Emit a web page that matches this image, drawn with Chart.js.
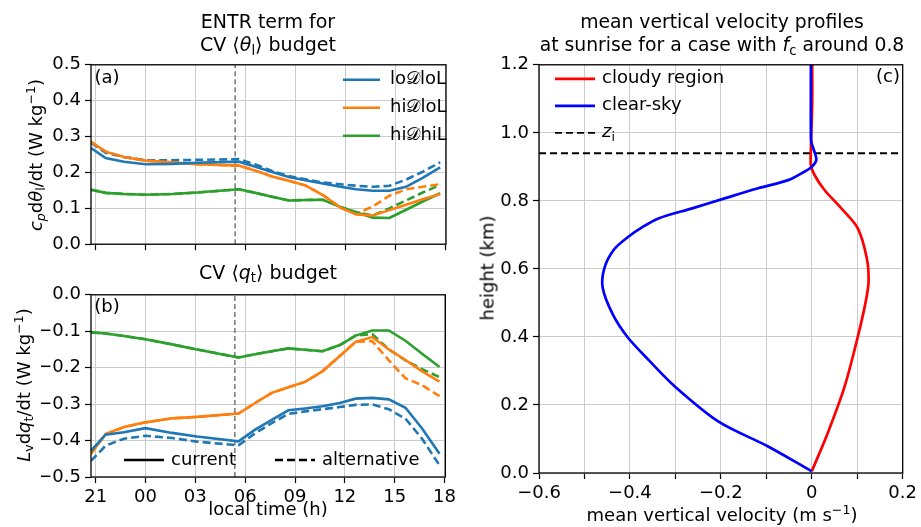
<!DOCTYPE html>
<html>
<head>
<meta charset="utf-8">
<script src="https://cdn.jsdelivr.net/npm/chart.js@4.4.1/dist/chart.umd.min.js"></script>
<style>
body { margin:0; width:921px; height:527px; background:#fff; overflow:hidden; font-family:'DejaVu Sans'; position:relative; }
.box { position:absolute; }
.txt { position:absolute; transform:translate(-50%,-50%); white-space:nowrap; font-size:18px; color:#000; text-align:center; line-height:23px; }
.rot { transform:translate(-50%,-50%) rotate(-90deg); }
sub, sup { font-size:0.7em; line-height:0; }
sub { vertical-align:-0.3em; }
sup { vertical-align:0.55em; }
</style>
</head>
<body>
<div class="box" style="left:41px; top:50px; width:419px; height:209px;"><canvas id="chartA"></canvas></div>
<div class="box" style="left:41px; top:280px; width:419px; height:229px;"><canvas id="chartB"></canvas></div>
<div class="box" style="left:489px; top:50px; width:432px; height:455px;"><canvas id="chartC"></canvas></div>

<div class="txt" style="left:268px; top:33px; font-size:19px;">ENTR term for<br>CV ⟨<i>θ</i><sub>l</sub>⟩ budget</div>
<div class="txt" style="left:268px; top:272px; font-size:19px;">CV ⟨<i>q</i><sub>t</sub>⟩ budget</div>
<div class="txt" style="left:722px; top:33px; font-size:18.8px;">mean vertical velocity profiles<br>at sunrise for a case with <i>f</i><sub>c</sub> around 0.8</div>

<div class="txt rot" style="left:35px; top:155px;"><i>c<sub>p</sub></i>d<i>θ</i><sub>l</sub>/dt (W kg<sup>−1</sup>)</div>
<div class="txt rot" style="left:23px; top:385px;"><i>L</i><sub>v</sub>d<i>q</i><sub>t</sub>/dt (W kg<sup>−1</sup>)</div>
<div class="txt rot" style="left:487px; top:268px;">height (km)</div>
<div class="txt" style="left:268px; top:508px;">local time (h)</div>
<div class="txt" style="left:722px; top:514px;">mean vertical velocity (m s<sup>−1</sup>)</div>

<div class="txt" style="left:107px; top:76px;">(a)</div>
<div class="txt" style="left:107px; top:305px;">(b)</div>
<div class="txt" style="left:888px; top:75px;">(c)</div>

<script>
// local time of each output (h), night wraps past midnight
const localTime = [20.72, 21.6, 22.7, 0.0, 1.6, 3.1, 5.6, 6.6, 7.6, 8.6, 9.6, 10.65, 11.7, 12.65, 13.65, 14.65, 15.65, 16.65, 17.7];
const timeTickHours = [21, 0, 3, 6, 9, 12, 15, 18];
const timeTickLabels = ['21', '00', '03', '06', '09', '12', '15', '18'];
const timeRange = [20.72, 18.05];
const sunriseTime = 5.38;

// (a) ENTR term, CV theta_l budget (W kg-1)
const entrThetaLoDloL = [0.268, 0.240, 0.230, 0.223, 0.224, 0.227, 0.230, 0.216, 0.201, 0.187, 0.178, 0.169, 0.160, 0.153, 0.149, 0.149, 0.160, 0.185, 0.214];
const entrThetaLoDloLAlt = [0.283, 0.255, 0.243, 0.234, 0.234, 0.235, 0.237, 0.222, 0.204, 0.190, 0.181, 0.172, 0.167, 0.163, 0.160, 0.163, 0.180, 0.202, 0.228];
const entrThetaHiDloL = [0.285, 0.258, 0.243, 0.233, 0.228, 0.223, 0.219, 0.205, 0.189, 0.177, 0.164, 0.137, 0.102, 0.083, 0.080, 0.095, 0.110, 0.125, 0.140];
const entrThetaHiDloLAlt = [0.285, 0.258, 0.243, 0.233, 0.228, 0.223, 0.219, 0.205, 0.189, 0.177, 0.164, 0.137, 0.102, 0.085, 0.105, 0.135, 0.153, 0.160, 0.167];
const entrThetaHiDhiL = [0.152, 0.143, 0.140, 0.138, 0.140, 0.144, 0.153, 0.143, 0.132, 0.122, 0.123, 0.124, 0.104, 0.089, 0.074, 0.073, 0.096, 0.119, 0.142];
const entrThetaHiDhiLAlt = [0.152, 0.143, 0.140, 0.138, 0.140, 0.144, 0.153, 0.143, 0.132, 0.122, 0.123, 0.124, 0.104, 0.089, 0.080, 0.100, 0.122, 0.144, 0.165];

// (b) CV q_t budget (W kg-1)
const entrQtLoDloL = [-0.428, -0.384, -0.377, -0.366, -0.379, -0.389, -0.402, -0.370, -0.343, -0.317, -0.312, -0.306, -0.297, -0.285, -0.283, -0.287, -0.310, -0.367, -0.436];
const entrQtLoDloLAlt = [-0.456, -0.414, -0.395, -0.387, -0.393, -0.403, -0.413, -0.380, -0.352, -0.327, -0.320, -0.314, -0.308, -0.302, -0.301, -0.314, -0.340, -0.395, -0.468];
const entrQtHiDloL = [-0.436, -0.382, -0.363, -0.350, -0.339, -0.335, -0.326, -0.297, -0.269, -0.254, -0.239, -0.210, -0.168, -0.129, -0.116, -0.150, -0.179, -0.210, -0.238];
const entrQtHiDloLAlt = [-0.436, -0.382, -0.363, -0.350, -0.339, -0.335, -0.326, -0.297, -0.269, -0.254, -0.239, -0.210, -0.168, -0.129, -0.127, -0.180, -0.229, -0.248, -0.278];
const entrQtHiDhiL = [-0.103, -0.106, -0.113, -0.122, -0.136, -0.150, -0.172, -0.163, -0.155, -0.147, -0.151, -0.155, -0.138, -0.112, -0.098, -0.098, -0.126, -0.162, -0.198];
const entrQtHiDhiLAlt = [-0.103, -0.106, -0.113, -0.122, -0.136, -0.150, -0.172, -0.163, -0.155, -0.147, -0.151, -0.155, -0.138, -0.112, -0.108, -0.150, -0.180, -0.204, -0.226];

// (c) mean vertical velocity profiles (m s-1) vs height (km)
const clearHeight = [0.005, 0.078, 0.151, 0.253, 0.331, 0.399, 0.467, 0.545, 0.603, 0.657, 0.696, 0.720, 0.749, 0.778, 0.808, 0.837, 0.861, 0.886, 0.900, 0.920, 0.944, 0.973, 1.012, 1.09, 1.2];
const clearVelocity = [0.0, -0.096, -0.205, -0.300, -0.358, -0.405, -0.438, -0.460, -0.456, -0.435, -0.402, -0.376, -0.336, -0.263, -0.190, -0.118, -0.052, -0.016, 0.0, 0.010, 0.006, -0.001, -0.002, -0.002, -0.002];
const cloudyHeight = [0.005, 0.117, 0.253, 0.399, 0.506, 0.564, 0.632, 0.720, 0.778, 0.832, 0.876, 0.905, 0.949, 1.09, 1.2];
const cloudyVelocity = [0.0, 0.035, 0.072, 0.101, 0.119, 0.125, 0.121, 0.101, 0.065, 0.028, 0.006, -0.002, -0.002, 0.001, 0.001];
const inversionHeight = 0.94;

const velTicks = [-0.6, -0.5, -0.4, -0.3, -0.2, -0.1, 0, 0.1, 0.2];
const velTickLabels = ['−0.6', '', '−0.4', '', '−0.2', '', '0', '', '0.2'];
const heightTicks = [0, 0.2, 0.4, 0.6, 0.8, 1.0, 1.2];
const heightTickLabels = ['0.0', '0.2', '0.4', '0.6', '0.8', '1.0', '1.2'];
const thetaTicks = [0, 0.1, 0.2, 0.3, 0.4, 0.5];
const thetaTickLabels = ['0.0', '0.1', '0.2', '0.3', '0.4', '0.5'];
const qtTicks = [-0.5, -0.4, -0.3, -0.2, -0.1, 0];
const qtTickLabels = ['−0.5', '−0.4', '−0.3', '−0.2', '−0.1', '0.0'];

const BLUE = '#1f77b4', ORANGE = '#ff7f0e', GREEN = '#2ca02c';
const FONT = 'DejaVu Sans';

function toAxis(t) { return t >= 20 ? t - 21 : t + 3; }
const timeX = localTime.map(toAxis);

function pts(xs, ys) { return xs.map((x, i) => ({x: x, y: ys[i]})); }

function line(data, color, dashed, order) {
    return {
        data: data,
        showLine: true,
        borderColor: color,
        borderWidth: 2.6,
        borderDash: dashed ? [8, 4] : [],
        pointRadius: 0,
        tension: 0,
        order: order
    };
}

function drawRich(ctx, segs, x, y, size) {
    ctx.save();
    ctx.textBaseline = 'middle';
    ctx.fillStyle = '#000';
    segs.forEach(s => {
        const sz = s.sub ? size * 0.7 : size;
        ctx.font = (s.it ? 'italic ' : '') + sz + 'px "' + FONT + '"';
        ctx.fillText(s.t, x, y + (s.sub ? size * 0.3 : 0));
        x += ctx.measureText(s.t).width;
    });
    ctx.restore();
}

// legend drawn inside the axes; x from left or right edge, y from top or bottom edge
function insideLegend(items, lineLen, gap) {
    return {
        id: 'insideLegend',
        afterDraw(chart) {
            const ctx = chart.ctx, a = chart.chartArea;
            items.forEach(it => {
                const x0 = (it.fromRight ? a.right : a.left) + it.x;
                const y0 = (it.fromBottom ? a.bottom : a.top) + it.y;
                ctx.save();
                ctx.strokeStyle = it.color;
                ctx.lineWidth = it.width || 2.6;
                ctx.setLineDash(it.dash || []);
                ctx.beginPath();
                ctx.moveTo(x0, y0);
                ctx.lineTo(x0 + lineLen, y0);
                ctx.stroke();
                ctx.restore();
                drawRich(ctx, it.label, x0 + lineLen + gap, y0, 18);
            });
        }
    };
}

const frame = {
    id: 'frame',
    afterDraw(chart) {
        const ctx = chart.ctx, a = chart.chartArea;
        ctx.save();
        ctx.strokeStyle = '#000';
        ctx.lineWidth = 1.3;
        ctx.strokeRect(a.left, a.top, a.right - a.left, a.bottom - a.top);
        ctx.restore();
    }
};

function axis(min, max, ticks, labels, size) {
    return {
        type: 'linear',
        min: min,
        max: max,
        afterBuildTicks: ax => { ax.ticks = ticks.map(v => ({value: v})); },
        afterFit: ax => { if (ax.isHorizontal()) ax.height = size; else ax.width = size; },
        ticks: {
            autoSkip: false,
            maxRotation: 0,
            padding: 4,
            color: '#000',
            font: {family: FONT, size: 18},
            callback: (v, i) => labels ? labels[i] : ''
        },
        grid: {color: '#cccccc', lineWidth: 1, tickColor: '#000', tickLength: 6, tickWidth: 1.2},
        border: {display: false}
    };
}

function baseOptions(xAxis, yAxis) {
    return {
        responsive: true,
        maintainAspectRatio: false,
        animation: false,
        layout: {padding: {top: 12, right: 14, bottom: 2, left: 0}},
        plugins: {legend: {display: false}, tooltip: {enabled: false}},
        scales: {x: xAxis, y: yAxis}
    };
}

const D = '𝒟';
const caseLegend = insideLegend([
    {x: -103, y: 15, fromRight: true, color: BLUE, label: [{t: 'lo'}, {t: D}, {t: 'loL'}]},
    {x: -103, y: 43, fromRight: true, color: ORANGE, label: [{t: 'hi'}, {t: D}, {t: 'loL'}]},
    {x: -103, y: 71, fromRight: true, color: GREEN, label: [{t: 'hi'}, {t: D}, {t: 'hiL'}]}
], 37, 10);

const sunriseX = toAxis(sunriseTime);
const tMin = toAxis(timeRange[0]), tMax = toAxis(timeRange[1]);
const timeTicks = timeTickHours.map(toAxis);

function sunrise(y0, y1) {
    return {data: [{x: sunriseX, y: y0}, {x: sunriseX, y: y1}], showLine: true, borderColor: '#555',
        borderWidth: 1.2, borderDash: [5, 3], pointRadius: 0, order: 10};
}

new Chart(document.getElementById('chartA'), {
    type: 'scatter',
    plugins: [frame, caseLegend],
    data: {
        datasets: [
            line(pts(timeX, entrThetaLoDloL), BLUE, false, 1),
            line(pts(timeX, entrThetaLoDloLAlt), BLUE, true, 2),
            line(pts(timeX, entrThetaHiDloL), ORANGE, false, 1),
            line(pts(timeX, entrThetaHiDloLAlt), ORANGE, true, 2),
            line(pts(timeX, entrThetaHiDhiL), GREEN, false, 1),
            line(pts(timeX, entrThetaHiDhiLAlt), GREEN, true, 2),
            sunrise(0, 0.5)
        ]
    },
    options: baseOptions(
        axis(tMin, tMax, timeTicks, null, 8),
        axis(0, 0.5, thetaTicks, thetaTickLabels, 50)
    )
});

const styleLegend = insideLegend([
    {x: 33, y: -17, fromBottom: true, color: '#000', label: [{t: 'current'}]},
    {x: 184, y: -17, fromBottom: true, color: '#000', dash: [8, 4], label: [{t: 'alternative'}]}
], 40, 7);

new Chart(document.getElementById('chartB'), {
    type: 'scatter',
    plugins: [frame, styleLegend],
    data: {
        datasets: [
            line(pts(timeX, entrQtLoDloL), BLUE, false, 1),
            line(pts(timeX, entrQtLoDloLAlt), BLUE, true, 2),
            line(pts(timeX, entrQtHiDloL), ORANGE, false, 1),
            line(pts(timeX, entrQtHiDloLAlt), ORANGE, true, 2),
            line(pts(timeX, entrQtHiDhiL), GREEN, false, 1),
            line(pts(timeX, entrQtHiDhiLAlt), GREEN, true, 2),
            sunrise(-0.5, 0)
        ]
    },
    options: baseOptions(
        axis(tMin, tMax, timeTicks, timeTickLabels, 30),
        axis(-0.5, 0, qtTicks, qtTickLabels, 50)
    )
});

const profileLegend = insideLegend([
    {x: 16, y: 14, color: 'red', width: 2.7, label: [{t: 'cloudy region'}]},
    {x: 16, y: 41, color: 'blue', width: 2.7, label: [{t: 'clear-sky'}]},
    {x: 16, y: 68, color: '#000', width: 1.8, dash: [7, 4], label: [{t: 'z', it: true}, {t: 'i', sub: true}]}
], 40, 7);

new Chart(document.getElementById('chartC'), {
    type: 'scatter',
    plugins: [frame, profileLegend],
    data: {
        datasets: [
            {data: pts(clearVelocity, clearHeight), showLine: true, borderColor: 'blue', borderWidth: 2.7,
                pointRadius: 0, tension: 0.3, order: 1},
            {data: pts(cloudyVelocity, cloudyHeight), showLine: true, borderColor: 'red', borderWidth: 2.7,
                pointRadius: 0, tension: 0.3, order: 2},
            {data: [{x: -0.6, y: inversionHeight}, {x: 0.2, y: inversionHeight}], showLine: true,
                borderColor: '#000', borderWidth: 1.8, borderDash: [7, 4], pointRadius: 0, order: 3}
        ]
    },
    options: baseOptions(
        axis(-0.6, 0.2, velTicks, velTickLabels, 30),
        axis(0, 1.2, heightTicks, heightTickLabels, 50)
    )
});
</script>
</body>
</html>
